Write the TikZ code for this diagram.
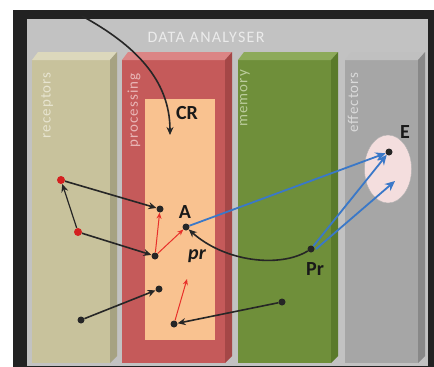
\documentclass[tikz,border=0pt]{standalone}
\usepackage{fontspec}
\setmainfont{Carlito}
\usetikzlibrary{arrows.meta,shapes.geometric}
\definecolor{frame}{HTML}{222222}
\definecolor{panel}{HTML}{C2C2C2}
\definecolor{recF}{HTML}{C8C29C}
\definecolor{recT}{HTML}{DCD8BC}
\definecolor{recS}{HTML}{A6A282}
\definecolor{proF}{HTML}{C55A5A}
\definecolor{proT}{HTML}{DB8585}
\definecolor{proS}{HTML}{A54747}
\definecolor{memF}{HTML}{6F8F3A}
\definecolor{memT}{HTML}{8DAA5A}
\definecolor{memS}{HTML}{5A7A2A}
\definecolor{effF}{HTML}{A6A6A6}
\definecolor{effT}{HTML}{C0C0C0}
\definecolor{effS}{HTML}{888888}
\definecolor{peach}{HTML}{F9C290}
\definecolor{epink}{HTML}{F4DEDE}
\definecolor{redarrow}{HTML}{E8302A}
\definecolor{bluearrow}{HTML}{3A78C8}
\definecolor{reddotc}{HTML}{D42020}
\newcommand\mycolumn[5]{%
  \fill[#3] (#1,60) rectangle (#2,363);
  \fill[#4] (#1,60) -- (#2,60) -- ({#2+7},52) -- ({#1+6},52) -- cycle;
  \fill[#5] (#2,60) -- ({#2+7},52) -- ({#2+7},356) -- (#2,363) -- cycle;}
\begin{document}
\begin{tikzpicture}[x=1pt,y=-1pt,
  dot/.style={circle,fill=black!85,inner sep=0pt,minimum size=7pt},
  rdot/.style={circle,fill=reddotc,inner sep=0pt,minimum size=8pt},
  blk/.style={draw=black!85,line width=1.6pt,-{Stealth[length=8pt,width=7pt]}},
  redarr/.style={draw=redarrow,line width=1pt,-{Stealth[length=6pt,width=5pt]}},
  bluearr/.style={draw=bluearrow,line width=1.8pt,-{Stealth[length=10pt,width=9pt]}},
  collabel/.style={rotate=90,anchor=east,inner sep=0pt,font=\fontsize{15}{15}\selectfont\addfontfeature{LetterSpace=7}},
  big/.style={font=\fontsize{20}{20}\selectfont\bfseries,text=black!90,inner sep=0pt}]
\useasboundingbox (0,0) rectangle (434,367);
\fill[white] (0,0) rectangle (434,367);
\fill[frame] (13,10) rectangle (434,367);
\fill[panel] (27,19) rectangle (428,366);
\node[font=\fontsize{16}{16}\selectfont\addfontfeature{LetterSpace=8},text=white!92!black,inner sep=0pt] (title) at (206,37) {DATA ANALYSER};
\mycolumn{32}{110}{recF}{recT}{recS}
\mycolumn{122}{225}{proF}{proT}{proS}
\mycolumn{238}{331}{memF}{memT}{memS}
\mycolumn{345}{418}{effF}{effT}{effS}
\node[collabel,text=recT!70!white] (lrec) at (47,72) {receptors};
\node[collabel,text=proT!60!white] (lpro) at (134,73) {processing};
\node[collabel,text=memT!60!white] (lmem) at (245,70) {memory};
\node[collabel,text=effT!60!white] (leff) at (353,72) {effectors};
\fill[peach] (145,99) rectangle (215,340);
\node[draw=black!30,fill=epink,ellipse,minimum width=47pt,minimum height=68pt,inner sep=0pt] (ell) at (388,169) {};
% labels
\node[big] (CR) at (187,113) {CR};
\node[big] (Alab) at (185,212) {A};
\node[big,font=\fontsize{20}{20}\selectfont\bfseries\itshape] (prlab) at (197,256) {pr};
\node[big] (Prlab) at (315,269) {Pr};
\node[big] (Elab) at (405,132) {E};
% dots
\node[rdot] (r1) at (61,180) {};
\node[rdot] (r2) at (78,232) {};
\node[dot] (p1) at (160,209) {};
\node[dot] (A) at (186,227) {};
\node[dot] (p2) at (155,256) {};
\node[dot] (p3) at (159,289) {};
\node[dot] (p4) at (174,324) {};
\node[dot] (r3) at (81,320) {};
\node[dot] (m1) at (282,302) {};
\node[dot] (Pr) at (311,249) {};
\node[dot] (Ed) at (389,152) {};
\coordinate (top) at (82,16);
\coordinate (CRend) at (170,135);
\coordinate (redfree) at (187,279);
\coordinate (Efree) at (395,181);
% connectors
\draw[blk] (top) .. controls (135,45) and (170,80) .. (CRend);
\draw[blk] (r1) -- (p1);
\draw[blk,line width=1.2pt] (r2) -- (r1);
\draw[blk] (r2) -- (p2);
\draw[blk] (r3) -- (p3);
\draw[blk] (m1) -- (p4);
\draw[blk] (Pr) .. controls (280,268) and (225,262) .. (A);
\draw[redarr] (p2) -- (p1);
\draw[redarr] (p2) -- (A);
\draw[redarr] (p4) -- (redfree);
\draw[bluearr] (A) -- (Ed);
\draw[bluearr] (Pr) -- (Ed);
\draw[bluearr] ([xshift=5pt]Pr.center) -- (Efree);
\end{tikzpicture}
\end{document}
